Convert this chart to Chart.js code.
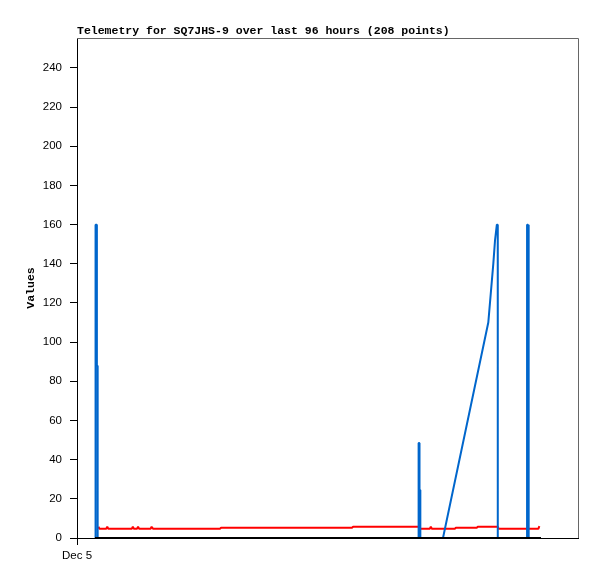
<!DOCTYPE html>
<html>
<head>
<meta charset="utf-8">
<script src="https://cdn.jsdelivr.net/npm/chart.js@4"></script>
<style>
  html, body { margin: 0; padding: 0; background: #fff; }
  #wrap { width: 597px; height: 579px; }
</style>
</head>
<body>
<div id="wrap"><canvas id="telemetryChart" width="597" height="579"></canvas></div>
<script>
// --- Telemetry data (x = hours since Dec 5 00:00) ---
const TITLE = 'Telemetry for SQ7JHS-9 over last 96 hours (208 points)';
const X_TICK_LABELS = ['Dec 5'];
const Y_TICKS_STEP = 20;

const blueTimes  = [3.45, 3.46, 3.60, 3.61, 3.80, 3.81, 3.95, 3.96, 65.45, 65.46, 65.62, 65.63, 65.78, 65.79, 70.13, 78.81, 79.77, 80.10, 80.45, 80.62, 80.63, 86.23, 86.24, 86.42, 86.43, 86.60, 86.61, 88.91];
const blueValues = [0,    41,   41,   160,  160,  88,   88,   0,    0,     48.5,  48.5,  24.5,  24.5,  0,     0,     110,   140,   152,   160,   160,   0,     0,     160,   160,   80,    80,    0,     0];

const redTimes  = [4.10, 4.30, 5.60, 5.80, 6.00, 10.50, 10.70, 10.90, 11.50, 11.70, 11.90, 14.10, 14.30, 14.60, 27.40, 27.60, 52.70, 52.90, 65.60, 65.80, 67.60, 67.80, 68.00, 72.40, 72.60, 76.60, 76.80, 80.60, 80.80, 88.40, 88.60];
const redValues = [5.7,  4.7,  4.7,  5.7,  4.7,  4.7,   5.7,   4.7,   4.7,   5.7,   4.7,   4.7,   5.7,   4.7,   4.7,   5.2,   5.2,   5.7,   5.7,   4.7,   4.7,   5.7,   4.7,   4.7,   5.2,   5.2,   5.7,   5.7,   4.7,   4.7,   6.1];

const blackTimes  = [3.45, 88.91];
const blackValues = [0, 0];

function toPoints(times, values) {
  return times.map((t, i) => ({ x: t, y: values[i] }));
}

// gray frame on top and right of the plot
const frameLines = {
  id: 'frameLines',
  afterDraw(chart) {
    const { ctx, chartArea: a } = chart;
    ctx.save();
    ctx.strokeStyle = '#666';
    ctx.lineWidth = 1;
    ctx.beginPath();
    ctx.moveTo(a.left, a.top + 0.5);
    ctx.lineTo(a.right + 0.5, a.top + 0.5);
    ctx.lineTo(a.right + 0.5, a.bottom);
    ctx.stroke();
    ctx.restore();
  }
};

const tickFont = { family: "'Liberation Sans', sans-serif", size: 11.5 };
const monoBold = { family: "'Liberation Mono', 'DejaVu Sans Mono', monospace", size: 11.5, weight: 'bold' };

new Chart(document.getElementById('telemetryChart'), {
  type: 'line',
  data: {
    datasets: [
      { label: 'zero', data: toPoints(blackTimes, blackValues), borderColor: '#000', borderWidth: 2, order: 0 },
      { label: 'blue', data: toPoints(blueTimes, blueValues), borderColor: '#0066cc', borderWidth: 2, order: 1 },
      { label: 'red', data: toPoints(redTimes, redValues), borderColor: '#ff0000', borderWidth: 2, order: 2 }
    ]
  },
  options: {
    responsive: false,
    animation: false,
    events: [],
    elements: { point: { radius: 0 }, line: { tension: 0, borderJoinStyle: 'bevel', borderCapStyle: 'butt' } },
    layout: { padding: { left: 0, right: 19, top: 0, bottom: 0 } },
    plugins: {
      legend: { display: false },
      tooltip: { enabled: false },
      title: {
        display: true, text: TITLE, align: 'start', fullSize: false,
        color: '#000', font: monoBold, padding: { top: 24, bottom: 0.2 }
      }
    },
    scales: {
      x: {
        type: 'linear', min: 0, max: 96,
        afterBuildTicks: s => { s.ticks = [{ value: 0 }]; },
        afterFit: s => { s.height = 41; },
        ticks: { color: '#000', font: tickFont, padding: 4, maxRotation: 0, callback: v => v === 0 ? X_TICK_LABELS[0] : '' },
        grid: { drawOnChartArea: false, drawTicks: true, tickLength: 7, color: '#000' },
        border: { color: '#000', width: 1 }
      },
      y: {
        min: 0, max: 255.3,
        afterFit: s => { s.width = 77; },
        ticks: { stepSize: Y_TICKS_STEP, includeBounds: false, color: '#000', font: tickFont, padding: 8 },
        grid: { drawOnChartArea: false, drawTicks: true, tickLength: 7, color: '#000' },
        border: { color: '#000', width: 1 },
        title: { display: true, text: 'Values', color: '#000', font: monoBold, padding: { top: 24, bottom: 0 } }
      }
    }
  },
  plugins: [frameLines]
});
</script>
</body>
</html>
